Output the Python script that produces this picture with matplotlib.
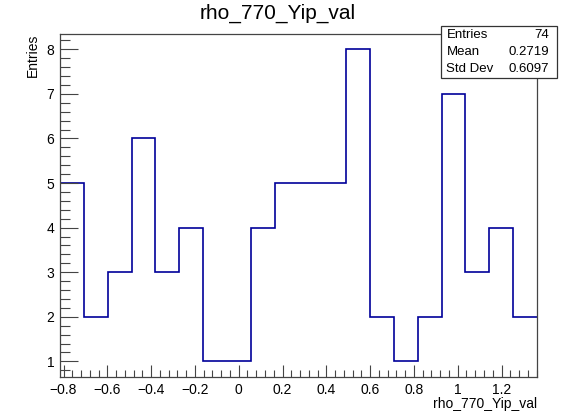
import numpy as np
import matplotlib
matplotlib.use("Agg")
import matplotlib.pyplot as plt
from matplotlib.ticker import MultipleLocator, FuncFormatter
from matplotlib.patches import Rectangle

plt.rcParams["font.family"] = ["Liberation Sans", "DejaVu Sans"]

# ── histogram data ───────────────────────────────────────────────────────────
counts = [5, 2, 3, 6, 3, 4, 1, 1, 4, 5, 5, 5, 8, 2, 1, 2, 7, 3, 4, 2]
x_lo, x_hi = -0.816, 1.362
edges = np.linspace(x_lo, x_hi, len(counts) + 1)

stat_names = ["Entries", "Mean", "Std Dev"]
stat_values = ["74", "0.2719", "0.6097"]

hist_name = "rho_770_Yip_val"
W, H = 575, 416

fig = plt.figure(figsize=(W / 100, H / 100), dpi=100)
fig.patch.set_facecolor("white")

# frame in pixel coordinates -> figure fractions
left, right, top, bottom = 60, 537, 33.7, 377
ax = fig.add_axes([left / W, 1 - bottom / H, (right - left) / W, (bottom - top) / H])

ax.stairs(counts, edges, baseline=None, color="#000099", linewidth=1.2)

ax.xaxis.set_major_locator(MultipleLocator(0.2))
ax.xaxis.set_minor_locator(MultipleLocator(0.04))
ax.yaxis.set_major_locator(MultipleLocator(1))
ax.yaxis.set_minor_locator(MultipleLocator(0.2))
ax.xaxis.set_major_formatter(FuncFormatter(lambda v, p: f"{round(v, 2):g}".replace("-", "\u2212")))

ax.set_xlim(x_lo, x_hi)
ax.set_ylim(0.65, 8.35)

ax.tick_params(axis="x", which="major", direction="in", length=9, width=0.8,
               color="#444444", labelsize=10, pad=4)
ax.tick_params(axis="x", which="minor", direction="in", length=5, width=0.8,
               color="#444444")
ax.tick_params(axis="y", which="major", direction="in", length=13, width=0.8,
               color="#444444", labelsize=10, pad=4)
ax.tick_params(axis="y", which="minor", direction="in", length=7, width=0.8,
               color="#444444")

for sp in ax.spines.values():
    sp.set_color("#444444")
    sp.set_linewidth(0.9)

# titles
fig.text(278 / W, 1 - 13 / H, hist_name, ha="center", va="center", fontsize=15)
fig.text(right / W, 1 - 404 / H, hist_name, ha="right", va="center", fontsize=10)
fig.text(33 / W, 1 - top / H, "Entries", ha="center", va="top", rotation=90, fontsize=10)

# stats box
bx0, bx1, by0, by1 = 440.7, 556.7, 25.7, 77.7
fig.patches.append(Rectangle((bx0 / W, 1 - by1 / H), (bx1 - bx0) / W, (by1 - by0) / H,
                             transform=fig.transFigure, facecolor="white",
                             edgecolor="#333333", linewidth=0.9, zorder=5))
row_y = [35, 52.3, 69.3]
for name, val, ry in zip(stat_names, stat_values, row_y):
    fig.text(446.5 / W, 1 - ry / H, name, ha="left", va="center", fontsize=9.5, zorder=6)
    fig.text(549 / W, 1 - ry / H, val, ha="right", va="center", fontsize=9.5, zorder=6)

fig.savefig("out.png", dpi=100)
